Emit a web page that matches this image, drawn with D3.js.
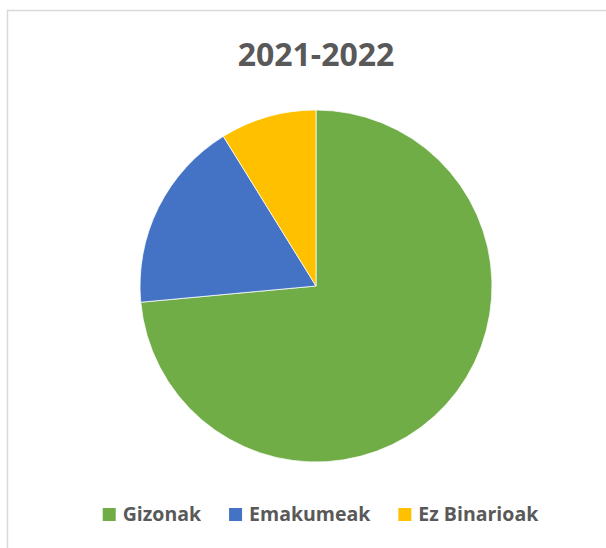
<!DOCTYPE html>
<html>
<head>
<meta charset="utf-8">
<script src="https://cdn.jsdelivr.net/npm/d3@7"></script>
<style>
  body { margin: 0; background: #fff; }
  svg { display: block; }
</style>
</head>
<body>
<svg id="chart" width="606" height="548"></svg>
<script>
// data
var categories = ["Gizonak", "Emakumeak", "Ez Binarioak"];
var values = [25, 6, 3];
var colours = ["#70ad47", "#4472c4", "#ffc000"];
var title = "2021-2022";

var svg = d3.select("#chart");
var W = 606, H = 548;

// chart frame (only top and left edges are inside the picture)
svg.append("rect")
  .attr("x", 7.5).attr("y", 10.5)
  .attr("width", 640).attr("height", 600)
  .attr("fill", "#fff")
  .attr("stroke", "#d9d9d9")
  .attr("stroke-width", 1.5);

svg.append("text")
  .attr("x", 316).attr("y", 66)
  .attr("text-anchor", "middle")
  .attr("font-family", "'Open Sans', sans-serif")
  .attr("font-weight", "bold")
  .attr("font-size", 32)
  .attr("fill", "#595959")
  .text(title);

var data = categories.map(function (c, i) { return { name: c, value: values[i] }; });

var pie = d3.pie().sort(null).value(function (d) { return d.value; });
var arc = d3.arc().innerRadius(0).outerRadius(176);
var colour = d3.scaleOrdinal().domain(categories).range(colours);

var g = svg.append("g").attr("transform", "translate(316,286)");
g.selectAll("path")
  .data(pie(data))
  .enter()
  .append("path")
  .attr("d", arc)
  .attr("fill", function (d) { return colour(d.data.name); })
  .attr("stroke", "#fff")
  .attr("stroke-width", 0.75);

// legend, centred under the pie
var legend = svg.append("g");
var items = legend.selectAll("g")
  .data(categories)
  .enter()
  .append("g");

items.append("rect")
  .attr("width", 13).attr("height", 13)
  .attr("y", -13)
  .attr("fill", function (d) { return colour(d); });

items.append("text")
  .attr("x", 20)
  .attr("font-family", "'Open Sans', sans-serif")
  .attr("font-weight", "bold")
  .attr("font-size", 19.5)
  .attr("fill", "#595959")
  .text(function (d) { return d; });

var gap = 28, x = 0;
items.each(function () {
  var w = 20 + d3.select(this).select("text").node().getComputedTextLength();
  d3.select(this).attr("transform", "translate(" + x + ",0)");
  x += w + gap;
});
var total = x - gap;
legend.attr("transform", "translate(" + (320.5 - total / 2) + ",521)");
</script>
</body>
</html>
